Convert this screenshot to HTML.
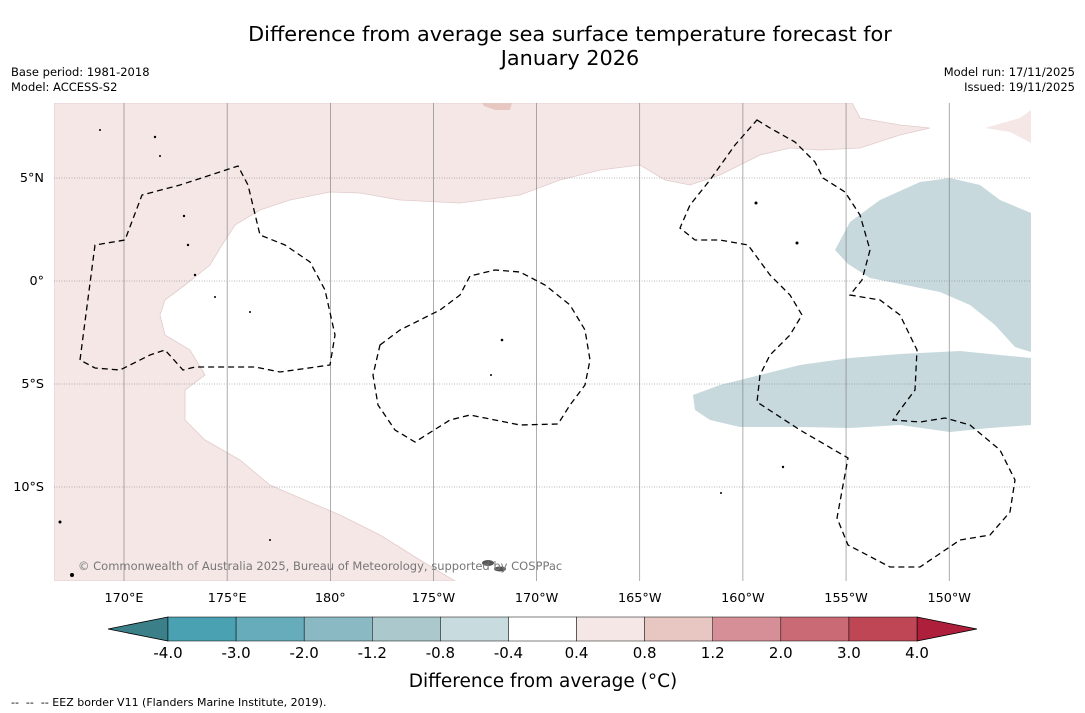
<!DOCTYPE html>
<html><head><meta charset="utf-8"><style>
body{margin:0;background:#fff;font-family:"DejaVu Sans","Liberation Sans",sans-serif;}
#wrap{position:relative;width:1085px;height:713px;overflow:hidden;background:#fff}
.t{position:absolute;white-space:nowrap;color:#000}
</style></head><body>
<div id="wrap">
<div class="t" style="left:0;width:1140px;text-align:center;top:22px;font-size:20.8px;line-height:24px">Difference from average sea surface temperature forecast for<br>January 2026</div>
<div class="t" style="left:11px;top:65px;font-size:11.5px;line-height:15px">Base period: 1981-2018<br>Model: ACCESS-S2</div>
<div class="t" style="right:10px;top:65px;font-size:11.5px;line-height:15px;text-align:right">Model run: 17/11/2025<br>Issued: 19/11/2025</div>
<svg id="map" width="1085" height="713" style="position:absolute;left:0;top:0" font-family="DejaVu Sans, Liberation Sans, sans-serif">
<defs><clipPath id="mc"><rect x="54" y="103" width="977" height="478"/></clipPath></defs>
<g clip-path="url(#mc)">
<rect x="54" y="103" width="977" height="478" fill="#fff"/>
<polygon fill="#f4e7e6" stroke="#e2cccc" stroke-width="0.8" points="54,103 852,103 860,118 900,125 930,128 900,135 860,148 820,150 790,148 760,155 720,175 690,185 665,180 640,165 600,170 560,180 520,195 460,203 400,200 360,193 330,192 290,200 260,210 235,225 222,245 210,265 185,285 165,300 160,315 165,335 190,350 205,375 185,390 185,420 205,440 240,460 270,485 300,498 340,515 380,535 420,560 455,581 54,581"/>
<polygon fill="#f4e7e6" points="985,128 1020,118 1031,110 1031,143 1010,132"/>
<polygon fill="#e6c7c2" points="482,103 512,103 510,110 495,110 484,106"/>
<polygon fill="#c7d9dd" points="835,250 850,222 880,200 920,182 950,178 980,185 1000,200 1031,213 1031,352 1015,347 995,325 970,305 940,292 905,285 870,278 848,264"/>
<polygon fill="#c7d9dd" points="693,395 720,385 760,375 800,365 850,358 900,354 960,351 1000,355 1031,358 1031,425 990,428 950,432 900,425 850,428 800,427 740,427 710,420 695,410"/>
<g id="grid" stroke="#777" stroke-width="0.6"></g>
<g fill="none" stroke="#000" stroke-width="1.3" stroke-dasharray="6,4">
<polyline points="80,360 95,245 125,240 142,195 180,185 238,166 248,185 260,235 285,245 310,262 325,290 335,335 330,365 280,372 255,367 195,367 183,370 165,350 150,355 120,370 95,368 80,360"/>
<polygon points="380,345 400,330 440,310 460,295 470,276 495,270 520,272 545,285 570,305 585,330 590,360 585,385 570,405 558,424 520,425 470,415 450,420 415,442 395,430 378,405 373,375"/>
<polygon points="757,120 770,128 795,142 815,162 823,178 845,192 860,215 870,250 862,280 850,295 880,300 900,315 917,350 915,390 900,410 893,420 920,422 945,418 970,425 1000,450 1015,480 1010,512 990,535 960,540 920,567 890,567 848,545 837,518 848,458 800,430 757,402 760,375 770,355 790,335 802,315 790,295 770,275 748,245 720,240 695,240 680,228 690,205 710,180 735,145"/>
</g>
<g fill="#000">
<circle cx="100" cy="130" r="1"/><circle cx="155" cy="137" r="1.2"/><circle cx="160" cy="156" r="1"/><circle cx="184" cy="216" r="1.2"/><circle cx="188" cy="245" r="1.2"/><circle cx="195" cy="275" r="1.2"/><circle cx="215" cy="297" r="1"/><circle cx="250" cy="312" r="1"/><circle cx="502" cy="340" r="1.3"/><circle cx="491" cy="375" r="1"/><circle cx="756" cy="203" r="1.5"/><circle cx="797" cy="243" r="1.5"/><circle cx="783" cy="467" r="1.2"/><circle cx="721" cy="493" r="1"/><circle cx="60" cy="522" r="1.5"/><circle cx="72" cy="575" r="2"/><circle cx="270" cy="540" r="1"/>
<ellipse cx="488" cy="563" rx="6" ry="3" fill="#555"/><ellipse cx="500" cy="569" rx="6" ry="2.5" fill="#555"/>
</g>
</g>
<text x="78" y="570" font-size="11.5" fill="#777">© Commonwealth of Australia 2025, Bureau of Meteorology, supported by COSPPac</text>
<g id="lonlabels" font-size="12.8" text-anchor="middle"></g>
<g id="latlabels" font-size="12.8" text-anchor="end"></g>
<g id="cbar"></g>
<text x="543" y="687" font-size="18.5" text-anchor="middle">Difference from average (°C)</text>
<text x="11" y="706" font-size="11" xml:space="preserve">--  --  -- EEZ border V11 (Flanders Marine Institute, 2019).</text>
</svg>
</div>
<script>
const lonTicks=[170,175,180,185,190,195,200,205,210];
const lonLabels=["170°E","175°E","180°","175°W","170°W","165°W","160°W","155°W","150°W"];
const latTicks=[5,0,-5,-10];
const latLabels=["5°N","0°","5°S","10°S"];
const cbBounds=[-4.0,-3.0,-2.0,-1.2,-0.8,-0.4,0.4,0.8,1.2,2.0,3.0,4.0];
const cbLabels=["-4.0","-3.0","-2.0","-1.2","-0.8","-0.4","0.4","0.8","1.2","2.0","3.0","4.0"];
const cbColors=["#4aa1b2","#67acba","#8ab9c4","#abc8cc","#c8dbde","#ffffff","#f4e7e6","#e8c6c2","#d68f96","#c96a74","#be4655"];
const cbUnder="#3b7f89", cbOver="#ad1f3a";
const NS="http://www.w3.org/2000/svg";
const xLon=l=>124+(l-170)*20.63;
const yLat=a=>281-a*20.6;
function mk(t,a,p){const e=document.createElementNS(NS,t);for(const k in a)e.setAttribute(k,a[k]);p.appendChild(e);return e;}
const grid=document.getElementById('grid');
lonTicks.forEach((l,i)=>{
 const ln=mk('line',{x1:xLon(l),x2:xLon(l),y1:103,y2:581},grid);
 
 
 const t=mk('text',{x:xLon(l),y:602},document.getElementById('lonlabels'));t.textContent=lonLabels[i];
 
 
});
latTicks.forEach((a,i)=>{
 const ln=mk('line',{x1:54,x2:1031,y1:yLat(a),y2:yLat(a),'stroke-dasharray':'1,1.5'},grid);
 
 
 const t=mk('text',{x:44,y:yLat(a)+4},document.getElementById('latlabels'));t.textContent=latLabels[i];
 
 
});
const cb=document.getElementById('cbar');
const x0=168,x1=917,yt=617,yb=641,step=(x1-x0)/(cbBounds.length-1);
const under=mk('polygon',{points:`${x0},${yt} 108,${(yt+yb)/2} ${x0},${yb}`,fill:cbUnder,stroke:'#000','stroke-width':0.8},cb);


const over=mk('polygon',{points:`${x1},${yt} 977,${(yt+yb)/2} ${x1},${yb}`,fill:cbOver,stroke:'#000','stroke-width':0.8},cb);


cbColors.forEach((c,i)=>{
 const r=mk('rect',{x:x0+i*step,y:yt,width:step,height:yb-yt,fill:c,stroke:'#000','stroke-width':0.5},cb);
 
 
});
cbBounds.forEach((b,i)=>{
 const t=mk('text',{x:x0+i*step,y:658,'font-size':15,'text-anchor':'middle'},cb);t.textContent=cbLabels[i];
 
 
});
</script>
</body></html>
